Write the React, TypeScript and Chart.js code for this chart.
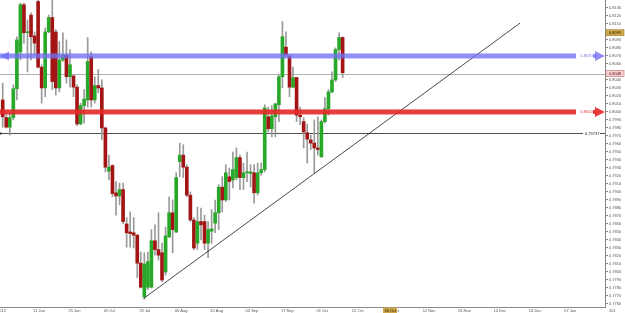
import React, { useEffect, useRef } from 'react';
import { Chart, registerables } from 'chart.js';

Chart.register(...registerables);

// EUR/GBP daily candles (bar index 1..97)
const opens = [
  0.8015, 0.7993, 0.7981, 0.7993, 0.8029, 0.8075, 0.8134, 0.8099, 0.8121, 0.8095,
  0.8138, 0.8056, 0.8030, 0.8100, 0.8118, 0.8100, 0.8030, 0.8065, 0.8071, 0.8044,
  0.8045, 0.8031, 0.7985, 0.8008, 0.8015, 0.8069, 0.8015, 0.8033, 0.8030, 0.7980,
  0.7926, 0.7933, 0.7899, 0.7895, 0.7903, 0.7860, 0.7850, 0.7849, 0.7846, 0.7811,
  0.7769, 0.7781, 0.7781, 0.7839, 0.7828, 0.7824, 0.7800, 0.7844, 0.7874, 0.7850,
  0.7938, 0.7946, 0.7931, 0.7896, 0.7865, 0.7836, 0.7863, 0.7863, 0.7836, 0.7851,
  0.7861, 0.7874, 0.7906, 0.7890, 0.7919, 0.7915, 0.7918, 0.7943, 0.7918, 0.7924,
  0.7923, 0.7924, 0.7899, 0.7924, 0.7928, 0.7994, 0.7979, 0.7994, 0.8009, 0.8044,
  0.8081, 0.8070, 0.8031, 0.8043, 0.7996, 0.7988, 0.7974, 0.7965, 0.7961, 0.7955,
  0.7944, 0.7988, 0.8004, 0.8025, 0.8040, 0.8078, 0.8093,
];
const highs = [
  0.8036, 0.7999, 0.7999, 0.8034, 0.8094, 0.8136, 0.8136, 0.8115, 0.8124, 0.8100,
  0.8140, 0.8059, 0.8105, 0.8121, 0.8145, 0.8103, 0.8088, 0.8099, 0.8090, 0.8078,
  0.8046, 0.8034, 0.8011, 0.8028, 0.8093, 0.8075, 0.8044, 0.8053, 0.8040, 0.7981,
  0.7946, 0.7934, 0.7913, 0.7911, 0.7911, 0.7868, 0.7875, 0.7868, 0.7847, 0.7825,
  0.7824, 0.7825, 0.7853, 0.7859, 0.7874, 0.7836, 0.7856, 0.7894, 0.7890, 0.7924,
  0.7961, 0.7959, 0.7934, 0.7900, 0.7868, 0.7881, 0.7880, 0.7871, 0.7863, 0.7878,
  0.7890, 0.7909, 0.7919, 0.7934, 0.7930, 0.7950, 0.7955, 0.7946, 0.7936, 0.7950,
  0.7934, 0.7934, 0.7936, 0.7936, 0.8009, 0.8006, 0.8008, 0.8011, 0.8046, 0.8113,
  0.8100, 0.8071, 0.8056, 0.8043, 0.8006, 0.7993, 0.7985, 0.7971, 0.7990, 0.7994,
  0.7990, 0.8018, 0.8028, 0.8050, 0.8080, 0.8099, 0.8094,
];
const lows = [
  0.7981, 0.7980, 0.7971, 0.7990, 0.8015, 0.8065, 0.8086, 0.8050, 0.8065, 0.8071,
  0.8055, 0.8011, 0.8019, 0.8099, 0.8028, 0.8021, 0.8025, 0.8063, 0.8036, 0.8031,
  0.8019, 0.7983, 0.7984, 0.7986, 0.8006, 0.8006, 0.8011, 0.8024, 0.7965, 0.7925,
  0.7915, 0.7894, 0.7871, 0.7884, 0.7860, 0.7831, 0.7831, 0.7830, 0.7793, 0.7780,
  0.7766, 0.7778, 0.7780, 0.7821, 0.7815, 0.7788, 0.7796, 0.7843, 0.7824, 0.7849,
  0.7919, 0.7918, 0.7894, 0.7863, 0.7828, 0.7828, 0.7840, 0.7828, 0.7818, 0.7836,
  0.7849, 0.7853, 0.7875, 0.7888, 0.7890, 0.7905, 0.7915, 0.7903, 0.7903, 0.7913,
  0.7906, 0.7886, 0.7896, 0.7921, 0.7925, 0.7975, 0.7969, 0.7969, 0.7988, 0.8030,
  0.8069, 0.8019, 0.8030, 0.7988, 0.7984, 0.7955, 0.7936, 0.7953, 0.7924, 0.7946,
  0.7943, 0.7986, 0.7996, 0.8024, 0.8038, 0.8065, 0.8043,
];
const closes = [
  0.7994, 0.7981, 0.7993, 0.8029, 0.8090, 0.8134, 0.8099, 0.8100, 0.8094, 0.8086,
  0.8056, 0.8030, 0.8100, 0.8118, 0.8038, 0.8030, 0.8065, 0.8071, 0.8044, 0.8059,
  0.8031, 0.7985, 0.8008, 0.8016, 0.8063, 0.8015, 0.8033, 0.8030, 0.7980, 0.7931,
  0.7931, 0.7898, 0.7895, 0.7903, 0.7863, 0.7849, 0.7848, 0.7846, 0.7811, 0.7781,
  0.7810, 0.7813, 0.7839, 0.7828, 0.7821, 0.7790, 0.7845, 0.7874, 0.7853, 0.7918,
  0.7946, 0.7931, 0.7896, 0.7865, 0.7830, 0.7863, 0.7859, 0.7836, 0.7853, 0.7854,
  0.7874, 0.7906, 0.7890, 0.7924, 0.7913, 0.7928, 0.7943, 0.7918, 0.7924, 0.7925,
  0.7925, 0.7899, 0.7924, 0.7928, 0.8005, 0.7979, 0.7995, 0.8010, 0.8044, 0.8094,
  0.8071, 0.8031, 0.8043, 0.7996, 0.7994, 0.7975, 0.7966, 0.7961, 0.7955, 0.7953,
  0.7988, 0.8004, 0.8025, 0.8040, 0.8078, 0.8093, 0.8049,
];

// x-axis labels (bar index of each label)
const tickBars = [9, 19, 29, 39, 49, 59, 69, 79, 89, 99, 109, 119, 129, 139, 149, 159];
const tickLabels = [
  '11 Jun', '25 Jun', '09 Jul', '23 Jul', '06 Aug', '20 Aug', '03 Sep', '17 Sep',
  '01 Oct', '15 Oct', '29 Oct', '12 Nov', '26 Nov', '10 Dec', '24 Dec', '07 Jan',
];

// trend line anchors: [bar index, price]
const trendBars = [40.8, 147.1];
const trendPrices = [0.7767, 0.8111];

// horizontal levels
const supportLevel = 0.8;
const resistanceLevel = 0.807;
const bidLevel = 0.8048;
const markLevel = 0.79737;
const askTag = 0.8099;

const xMin = 0.237;
const xMax = 171.1;
const yMin = 0.775625;
const yMax = 0.81399;

const FONT = '"Liberation Sans", Arial, sans-serif';

const overlay = {
  id: 'overlay',
  beforeDatasetsDraw(chart: any) {
    const { ctx, chartArea: a, scales } = chart;
    const y = scales.y;
    ctx.save();
    // bid line
    const yb = Math.round(y.getPixelForValue(bidLevel)) + 0.5;
    ctx.strokeStyle = '#b0b0b0';
    ctx.lineWidth = 1;
    ctx.beginPath();
    ctx.moveTo(a.left, yb);
    ctx.lineTo(a.right, yb);
    ctx.stroke();
    // mark line
    const ym = Math.round(y.getPixelForValue(markLevel)) + 0.5;
    ctx.strokeStyle = '#505050';
    ctx.beginPath();
    ctx.moveTo(a.left, ym);
    ctx.lineTo(a.right - 22, ym);
    ctx.stroke();
    ctx.fillStyle = '#202020';
    ctx.font = `4px ${FONT}`;
    ctx.textBaseline = 'middle';
    ctx.textAlign = 'left';
    ctx.fillText(markLevel.toFixed(5), a.right - 20, ym);
    ctx.beginPath();
    ctx.moveTo(a.right - 5, ym);
    ctx.lineTo(a.right, ym);
    ctx.stroke();
    ctx.fillStyle = '#303030';
    ctx.fillRect(a.left, ym - 1, 1.5, 2);
    ctx.restore();
  },
  afterDatasetsDraw(chart: any) {
    const { ctx, chartArea: a, scales } = chart;
    const y = scales.y;
    ctx.save();
    const band = (level: number, color: string, textColor: string, leftArrow: boolean) => {
      const yp = y.getPixelForValue(level);
      ctx.fillStyle = color;
      ctx.fillRect(a.left, yp - 2.5, a.right - 29 - a.left, 5);
      // right arrow
      ctx.beginPath();
      ctx.moveTo(a.right - 10, yp - 5);
      ctx.lineTo(a.right, yp);
      ctx.lineTo(a.right - 10, yp + 5);
      ctx.closePath();
      ctx.fill();
      ctx.fillRect(a.right - 12, yp - 2, 3, 4);
      if (leftArrow) {
        ctx.beginPath();
        ctx.moveTo(a.left + 0.5, yp);
        ctx.lineTo(a.left + 9, yp - 4.5);
        ctx.lineTo(a.left + 9, yp + 4.5);
        ctx.closePath();
        ctx.fill();
      }
      ctx.fillStyle = textColor;
      ctx.font = `4px ${FONT}`;
      ctx.textAlign = 'center';
      ctx.textBaseline = 'middle';
      ctx.fillText(level.toFixed(4), a.right - 18.5, yp);
    };
    band(resistanceLevel, 'rgba(112,112,245,0.78)', '#7070e8', true);
    band(supportLevel, 'rgba(228,40,40,0.9)', '#e04040', false);
    ctx.restore();
  },
  afterDraw(chart: any) {
    const { ctx, chartArea: a, scales } = chart;
    const y = scales.y;
    ctx.save();
    ctx.font = `4px ${FONT}`;
    ctx.textBaseline = 'middle';
    const tag = (level: number, fill: string, stroke: string, text: string) => {
      const yp = y.getPixelForValue(level);
      ctx.fillStyle = fill;
      ctx.fillRect(a.right + 1, yp - 3, 18, 6);
      ctx.strokeStyle = stroke;
      ctx.lineWidth = 0.6;
      ctx.strokeRect(a.right + 1, yp - 3, 18, 6);
      ctx.fillStyle = text;
      ctx.textAlign = 'left';
      ctx.fillText(level.toFixed(4), a.right + 4, yp);
    };
    tag(askTag, '#cfa84a', '#a08030', '#302000');
    tag(bidLevel, '#f6d4d4', '#c07070', '#600000');
    // partially visible first and last date labels
    ctx.fillStyle = '#555';
    ctx.textAlign = 'right';
    ctx.fillText('28 May 2012', 6, a.bottom + 3.5);
    ctx.textAlign = 'left';
    ctx.fillText('201', a.right + 4, a.bottom + 3.5);
    // highlighted date box
    ctx.fillStyle = '#cfa84a';
    ctx.fillRect(383, a.bottom + 0.5, 14, 5.5);
    ctx.fillStyle = '#302000';
    ctx.fillText('26 Oct', 384.5, a.bottom + 3.5);
    ctx.restore();
  },
};

export default function App() {
  const ref = useRef<HTMLCanvasElement>(null);
  useEffect(() => {
    document.body.style.margin = '0';
    const bars = opens.map((_, i) => i + 1);
    const colors = opens.map((o, i) => (closes[i] >= o ? '#28a828' : '#a31515'));
    const chart = new Chart(ref.current as HTMLCanvasElement, {
      type: 'bar',
      data: {
        datasets: [
          {
            type: 'line',
            data: trendBars.map((b, i) => ({ x: b, y: trendPrices[i] })),
            borderColor: '#1a1a1a',
            borderWidth: 0.8,
            pointRadius: 0,
            order: 1,
          } as any,
          {
            type: 'bar',
            data: bars.map((b, i) => ({ x: b, y: [lows[i], highs[i]] })),
            backgroundColor: '#9a9a9a',
            grouped: false,
            barThickness: 1,
            maxBarThickness: 1,
            order: 3,
          } as any,
          {
            type: 'bar',
            data: bars.map((b, i) => ({ x: b, y: [opens[i], closes[i]] })),
            backgroundColor: colors,
            grouped: false,
            barThickness: 3,
            maxBarThickness: 3,
            minBarLength: 1,
            order: 2,
          } as any,
        ],
      },
      options: {
        responsive: false,
        animation: false,
        events: [],
        layout: { padding: 0 },
        plugins: { legend: { display: false }, tooltip: { enabled: false } },
        scales: {
          x: {
            type: 'linear',
            min: xMin,
            max: xMax,
            offset: false,
            grid: { display: false, drawTicks: false },
            border: { color: '#8a8a8a' },
            ticks: {
              autoSkip: false,
              maxRotation: 0,
              minRotation: 0,
              align: 'start',
              padding: 1,
              color: '#555',
              font: { size: 4, family: FONT },
              callback: (_v: any, i: number) => tickLabels[i],
            },
            afterBuildTicks: (s: any) => {
              s.ticks = tickBars.map((b) => ({ value: b + 0.6 }));
            },
            afterFit: (s: any) => {
              s.height = 6;
              s.paddingLeft = 0;
              s.paddingRight = 0;
            },
          },
          y: {
            position: 'right',
            min: yMin,
            max: yMax,
            grid: { drawOnChartArea: false, tickLength: 3, color: '#8a8a8a' },
            border: { color: '#8a8a8a' },
            ticks: {
              stepSize: 0.001,
              includeBounds: false,
              autoSkip: false,
              padding: 1,
              color: '#555',
              font: { size: 4, family: FONT },
              callback: (v: any) => Number(v).toFixed(4),
            },
            afterFit: (s: any) => {
              s.width = 20;
              s.paddingTop = 0;
              s.paddingBottom = 0;
            },
          },
        },
      } as any,
      plugins: [overlay],
    });
    return () => chart.destroy();
  }, []);
  return (
    <div style={{ width: 625, height: 313 }}>
      <canvas ref={ref} width={625} height={313} style={{ display: 'block' }} />
    </div>
  );
}
